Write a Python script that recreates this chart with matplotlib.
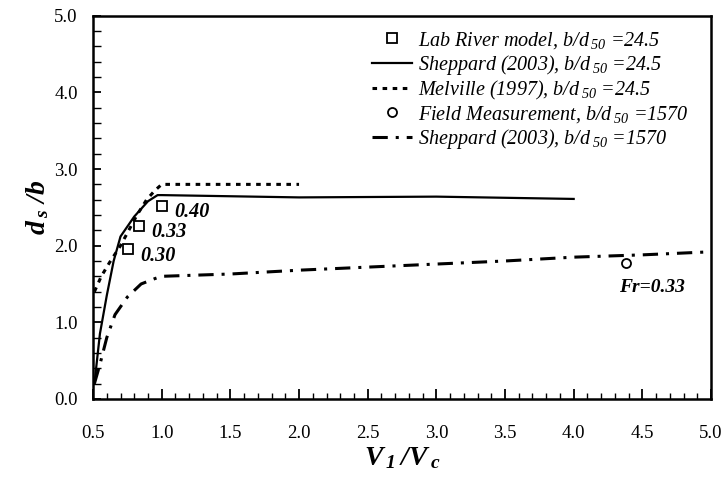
import numpy as np
import matplotlib
matplotlib.use("Agg")
import matplotlib.pyplot as plt
from matplotlib.ticker import MultipleLocator, FormatStrFormatter

plt.rcParams['font.family'] = ['Liberation Serif', 'DejaVu Serif']
plt.rcParams['mathtext.default'] = 'regular'

# lab river model points (b/d50 = 24.5)
lab_x = [0.757, 0.837, 1.005]
lab_y = [1.95, 2.26, 2.52]
lab_fr = ["0.30", "0.33", "0.40"]

# Sheppard (2003), b/d50 = 24.5
shep1_x = [0.51, 0.55, 0.6, 0.65, 0.7, 0.8, 0.9, 0.97, 1.0, 2.0, 3.0, 4.0]
shep1_y = [0.2, 0.85, 1.35, 1.8, 2.12, 2.38, 2.58, 2.66, 2.66, 2.63, 2.64, 2.61]

# Melville (1997), b/d50 = 24.5
mel_x = [0.51, 0.56, 0.62, 0.7, 0.76, 0.82, 0.89, 0.95, 1.0, 2.0]
mel_y = [1.4, 1.6, 1.78, 2.0, 2.2, 2.4, 2.6, 2.72, 2.8, 2.8]

# field measurement (b/d50 = 1570)
field_x = [4.38]
field_y = [1.77]

# Sheppard (2003), b/d50 = 1570
shep2_x = [0.51, 0.55, 0.6, 0.66, 0.75, 0.85, 0.95, 1.0, 1.5, 2.0, 2.5, 3.0, 3.5, 4.0, 4.5, 5.0]
shep2_y = [0.2, 0.45, 0.8, 1.1, 1.33, 1.5, 1.57, 1.6, 1.63, 1.68, 1.72, 1.76, 1.8, 1.85, 1.88, 1.92]

fig = plt.figure(figsize=(7.27, 4.8), dpi=100)
ax = fig.add_axes([0.128, 0.169, 0.85, 0.798])

ax.plot(lab_x, lab_y, linestyle='none', marker='s', markersize=6.5,
        markerfacecolor='white', markeredgecolor='black', markeredgewidth=1.3,
        label=r"Lab River model, b/d$_{\,50}$ =24.5", zorder=4)
ax.plot(shep1_x, shep1_y, color='black', linewidth=1.6,
        label=r"Sheppard (2003), b/d$_{\,50}$ =24.5")
ax.plot(mel_x, mel_y, color='black', linewidth=2.2, linestyle=(0, (1.5, 1.8)),
        label=r"Melville (1997), b/d$_{\,50}$ =24.5")
ax.plot(field_x, field_y, linestyle='none', marker='o', markersize=6.5,
        markerfacecolor='white', markeredgecolor='black', markeredgewidth=1.3,
        label=r"Field Measurement, b/d$_{\,50}$ =1570", zorder=4)
ax.plot(shep2_x, shep2_y, color='black', linewidth=2.2, linestyle=(0, (5, 2.6, 1, 2.6)),
        label=r"Sheppard (2003), b/d$_{\,50}$ =1570")

# Froude number annotations
for x, y, t in zip(lab_x, lab_y, lab_fr):
    ax.text(x + 0.09, y - 0.08, t, fontsize=14.5, fontweight='bold', style='italic',
            va='center', ha='left')
ax.text(field_x[0] - 0.05, field_y[0] - 0.32, "Fr=0.33", fontsize=14, fontweight='bold',
        style='italic', va='center', ha='left')

ax.set_xlim(0.5, 5.0)
ax.set_ylim(0.0, 5.0)
ax.xaxis.set_major_locator(MultipleLocator(0.5))
ax.xaxis.set_minor_locator(MultipleLocator(0.1))
ax.yaxis.set_major_locator(MultipleLocator(1.0))
ax.yaxis.set_minor_locator(MultipleLocator(0.2))
ax.xaxis.set_major_formatter(FormatStrFormatter('%.1f'))
ax.yaxis.set_major_formatter(FormatStrFormatter('%.1f'))

ax.tick_params(axis='x', which='major', direction='in', length=7, width=1.3, pad=19, labelsize=13.5)
ax.tick_params(axis='x', which='minor', direction='in', length=4, width=1.0)
ax.tick_params(axis='y', which='major', direction='in', length=6, width=1.3, pad=11, labelsize=13.5)
ax.tick_params(axis='y', which='minor', direction='in', length=6, width=1.0)
for sp in ax.spines.values():
    sp.set_linewidth(1.8)

ax.set_xlabel(r"$V_{\,1}\,/V_{\,c}$", fontsize=20, fontweight='bold', style='italic', labelpad=2)
ax.set_ylabel(r"$d_{\,s}\;/b$", fontsize=20, fontweight='bold', style='italic', labelpad=2)

ax.legend(loc='upper left', bbox_to_anchor=(372 / 727, 1 - 30 / 480),
          bbox_transform=fig.transFigure, frameon=False, borderpad=0, borderaxespad=0,
          handlelength=2.0, handletextpad=0.3, labelspacing=0.1,
          prop={'family': 'Liberation Serif', 'style': 'italic', 'size': 14.5})

fig.savefig("out.png", dpi=100)
